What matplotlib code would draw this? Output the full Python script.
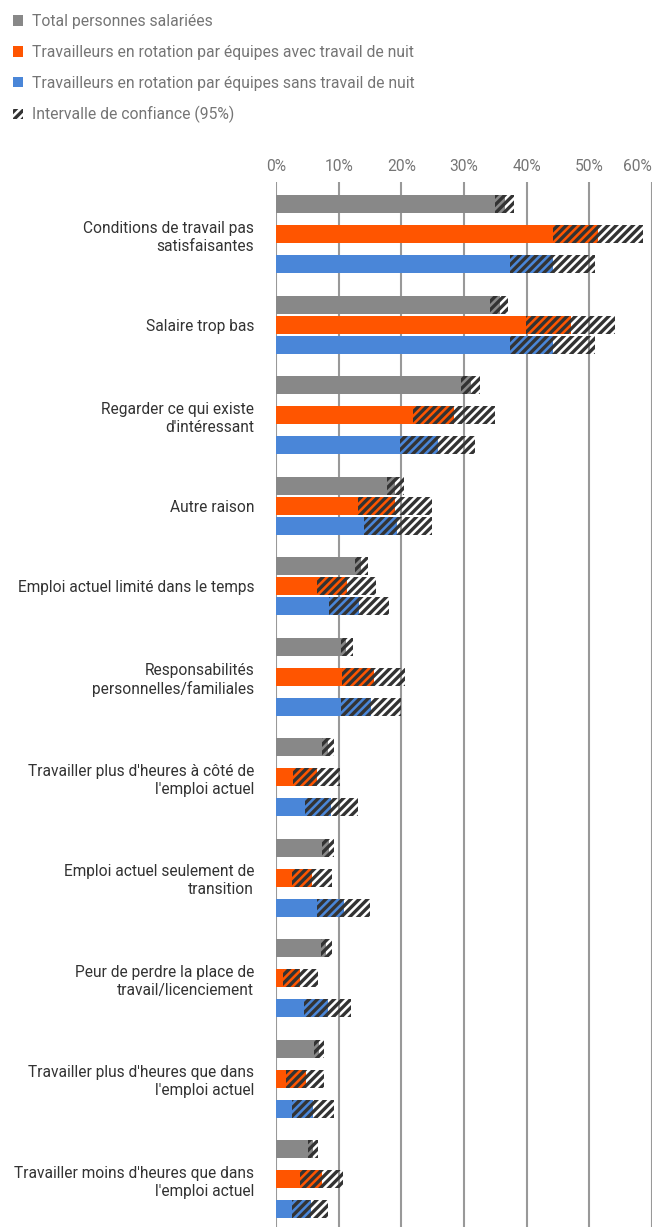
import matplotlib
matplotlib.use("Agg")
import matplotlib.pyplot as plt
from matplotlib.patches import Patch

plt.rcParams['font.family'] = ['Roboto', 'DejaVu Sans']
plt.rcParams['hatch.linewidth'] = 2.4

# motifs (les retours a la ligne comme dans l'original)
categories = [
    "Conditions de travail pas\nsatisfaisantes",
    "Salaire trop bas",
    "Regarder ce qui existe\nd'intéressant",
    "Autre raison",
    "Emploi actuel limité dans le temps",
    "Responsabilités\npersonnelles/familiales",
    "Travailler plus d'heures à côté de\nl'emploi actuel",
    "Emploi actuel seulement de\ntransition",
    "Peur de perdre la place de\ntravail/licenciement",
    "Travailler plus d'heures que dans\nl'emploi actuel",
    "Travailler moins d'heures que dans\nl'emploi actuel",
]

series = [
    "Total personnes salariées",
    "Travailleurs en rotation par équipes avec travail de nuit",
    "Travailleurs en rotation par équipes sans travail de nuit",
]
couleurs = ["#888888", "#ff5500", "#4a86d8"]

# valeurs en %
total = [36.5, 35.7, 31.1, 19.0, 13.6, 11.2, 8.3, 8.4, 7.9, 6.9, 5.8]
avec_nuit = [51.4, 47.1, 28.4, 19.0, 11.3, 15.6, 6.5, 5.7, 3.8, 4.7, 7.3]
sans_nuit = [44.2, 44.2, 25.9, 19.3, 13.2, 15.1, 8.7, 10.8, 8.2, 5.8, 5.5]

# intervalles de confiance (bas, haut)
total_bas = [35.0, 34.2, 29.5, 17.7, 12.5, 10.3, 7.3, 7.3, 7.1, 6.0, 5.1]
total_haut = [38.0, 37.1, 32.6, 20.4, 14.6, 12.2, 9.2, 9.2, 8.9, 7.7, 6.6]
avec_bas = [44.2, 39.9, 21.8, 13.1, 6.5, 10.5, 2.7, 2.5, 1.1, 1.5, 3.8]
avec_haut = [58.6, 54.2, 35.0, 24.9, 16.0, 20.6, 10.2, 8.9, 6.6, 7.6, 10.6]
sans_bas = [37.3, 37.3, 19.8, 14.0, 8.4, 10.3, 4.6, 6.5, 4.4, 2.5, 2.5]
sans_haut = [51.0, 51.0, 31.7, 24.9, 18.0, 20.0, 13.0, 14.9, 12.0, 9.2, 8.2]

valeurs = [total, avec_nuit, sans_nuit]
bas = [total_bas, avec_bas, sans_bas]
haut = [total_haut, avec_haut, sans_haut]

# mise en page verticale (en pixels) : groupes plus serres si libelle sur une ligne
h = 18.3
ecart = 22.2
debut = 13
positions = []
centres = []
for cat in categories:
    pas = 30 if "\n" in cat else 20
    ys = [debut + i * pas + h / 2 for i in range(3)]
    positions.append(ys)
    centres.append(ys[1])
    debut = debut + 2 * pas + h + ecart

fig = plt.figure(figsize=(6.55, 12.27), dpi=100)
ax = fig.add_axes([276.3 / 655, 0, (651.7 - 276.3) / 655, (1227 - 182) / 1227])

for s in range(3):
    ys = [p[s] for p in positions]
    ax.barh(ys, valeurs[s], height=h, color=couleurs[s], zorder=2)
    largeurs = [hi - lo for lo, hi in zip(bas[s], haut[s])]
    ax.barh(ys, largeurs, left=bas[s], height=h, facecolor='none',
            edgecolor='#333333', linewidth=0, hatch='////', zorder=3)

ax.set_xlim(0, 60)
ax.set_ylim(1045, 0)
ax.xaxis.tick_top()
ax.set_xticks(range(0, 61, 10))
ax.set_xticklabels([f"{v}%" for v in range(0, 61, 10)], color='#757575', fontsize=11.2)
ax.get_xticklabels()[-1].set_horizontalalignment('right')
ax.tick_params(axis='x', length=0, pad=6)
ax.set_yticks(centres)
ax.set_yticklabels(categories, color='#333333', fontsize=11.2, linespacing=1.24)
ax.tick_params(axis='y', length=0, pad=16)
ax.grid(axis='x', color='#999999', linewidth=1.5)
ax.set_axisbelow(True)
for sp in ax.spines.values():
    sp.set_visible(False)

poignees = [Patch(facecolor=c) for c in couleurs]
poignees.append(Patch(facecolor='white', edgecolor='#333333', linewidth=0, hatch='////'))
noms = series + ["Intervalle de confiance (95%)"]
leg = fig.legend(poignees, noms, loc='upper left', bbox_to_anchor=(-0.002, 1.0),
                 frameon=False, fontsize=11.3, handlelength=0.65, handleheight=0.65,
                 labelspacing=1.0, handletextpad=0.6)
for t in leg.get_texts():
    t.set_color('#757575')

fig.savefig("out.png", dpi=100)
